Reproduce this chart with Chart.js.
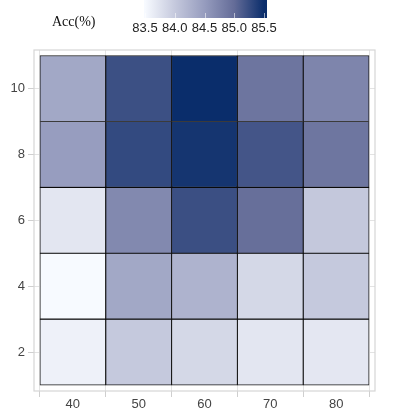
<!DOCTYPE html>
<html>
<head>
<meta charset="utf-8">
<script src="https://cdn.jsdelivr.net/npm/chart.js@4.4.1/dist/chart.umd.min.js"></script>
<style>
html,body{margin:0;padding:0;background:#fff;}
#wrap{width:399px;height:413px;position:relative;}
</style>
</head>
<body>
<div id="wrap"><canvas id="c" width="399" height="413"></canvas></div>
<script>
// ---- data ----
const xCategories = [40, 50, 60, 70, 80];
const yRows = [2, 4, 6, 8, 10];
const acc_y2  = [83.59, 84.00, 83.85, 83.70, 83.69];
const acc_y4  = [83.50, 84.37, 84.24, 83.85, 84.00];
const acc_y6  = [83.70, 84.70, 85.23, 84.97, 84.01];
const acc_y8  = [84.49, 85.27, 85.44, 85.18, 84.90];
const acc_y10 = [84.37, 85.22, 85.50, 84.91, 84.74];
const colorbarTicks = [83.5, 84.0, 84.5, 85.0, 85.5];
const colorbarTitle = 'Acc(%)';

const rowValues = [acc_y2, acc_y4, acc_y6, acc_y8, acc_y10];

// colour scale
const cStops = [
  [83.5, [247, 250, 255]],
  [84.0, [197, 201, 221]],
  [84.5, [150, 156, 190]],
  [85.0, [100, 108, 152]],
  [85.5, [10, 45, 107]]
];
function colorFor(v) {
  if (v <= cStops[0][0]) return 'rgb(' + cStops[0][1].join(',') + ')';
  for (let i = 1; i < cStops.length; i++) {
    if (v <= cStops[i][0]) {
      const a = cStops[i - 1], b = cStops[i];
      const t = (v - a[0]) / (b[0] - a[0]);
      const c = a[1].map((ch, k) => Math.round(ch + (b[1][k] - ch) * t));
      return 'rgb(' + c.join(',') + ')';
    }
  }
  return 'rgb(' + cStops[cStops.length - 1][1].join(',') + ')';
}

const cells = [];
const cellColors = [];
yRows.forEach((yv, r) => {
  xCategories.forEach((xv, i) => {
    const v = rowValues[r][i];
    cells.push({ x: xv, y: [yv - 1, yv + 1], v: v });
    cellColors.push(colorFor(v));
  });
});

const framePlugin = {
  id: 'frame',
  beforeDatasetsDraw(chart) {
    const ctx = chart.ctx, a = chart.chartArea;
    ctx.save();
    ctx.strokeStyle = '#d6d6d6';
    ctx.lineWidth = 1.2;
    ctx.strokeRect(a.left, a.top, a.right - a.left, a.bottom - a.top);
    ctx.restore();
  },
  afterDraw(chart) {
    const ctx = chart.ctx;
    // colorbar
    const vMin = colorbarTicks[0], vMax = colorbarTicks[colorbarTicks.length - 1];
    const px0 = 145, px1 = 264;
    const toPx = v => px0 + (v - vMin) / (vMax - vMin) * (px1 - px0);
    const barL = 144, barR = 267, barT = 0, barB = 18;
    ctx.save();
    const g = ctx.createLinearGradient(px0, 0, px1, 0);
    cStops.forEach(s => {
      g.addColorStop((s[0] - vMin) / (vMax - vMin), 'rgb(' + s[1].join(',') + ')');
    });
    ctx.fillStyle = g;
    ctx.fillRect(barL, barT, barR - barL, barB - barT);
    ctx.strokeStyle = 'rgba(255,255,255,0.55)';
    ctx.lineWidth = 1;
    colorbarTicks.forEach(t => {
      const x = Math.round(toPx(t)) + 0.5;
      ctx.beginPath();
      ctx.moveTo(x, barB - 5);
      ctx.lineTo(x, barB);
      ctx.stroke();
    });
    ctx.fillStyle = '#222';
    ctx.font = '13px "Liberation Sans", Arial, sans-serif';
    ctx.textAlign = 'center';
    ctx.textBaseline = 'middle';
    colorbarTicks.forEach(t => {
      ctx.fillText(t.toFixed(1), toPx(t), 28);
    });
    ctx.font = '14px "Liberation Serif", "Times New Roman", serif';
    ctx.textAlign = 'left';
    ctx.fillStyle = '#111';
    ctx.fillText(colorbarTitle, 52, 22);
    ctx.restore();
  }
};

new Chart(document.getElementById('c'), {
  type: 'bar',
  data: {
    datasets: [{
      data: cells,
      backgroundColor: cellColors,
      borderColor: 'rgba(0,0,0,0.92)',
      borderWidth: 0.9,
      borderSkipped: false,
      barPercentage: 1,
      categoryPercentage: 1
    }]
  },
  options: {
    responsive: false,
    animation: false,
    layout: { padding: { top: 50, right: 24, left: 0, bottom: 0 } },
    plugins: { legend: { display: false }, tooltip: { enabled: false } },
    scales: {
      x: {
        type: 'linear',
        min: 34.1,
        max: 85.9,
        offset: false,
        afterFit: s => { s.height = 22; },
        ticks: {
          stepSize: 10,
          includeBounds: false,
          color: '#444',
          font: { family: '"Liberation Sans", Arial, sans-serif', size: 13 },
          padding: 0
        },
        grid: { color: '#e3e3e3', tickColor: '#cfcfcf', tickLength: 6, lineWidth: 1 },
        border: { display: false }
      },
      y: {
        type: 'linear',
        min: 0.82,
        max: 11.17,
        afterFit: s => { s.width = 34; },
        ticks: {
          stepSize: 2,
          includeBounds: false,
          color: '#444',
          font: { family: '"Liberation Sans", Arial, sans-serif', size: 13 },
          padding: 3
        },
        grid: { color: '#e3e3e3', tickColor: '#cfcfcf', tickLength: 6, lineWidth: 1 },
        border: { display: false }
      }
    }
  },
  plugins: [framePlugin]
});
</script>
</body>
</html>
